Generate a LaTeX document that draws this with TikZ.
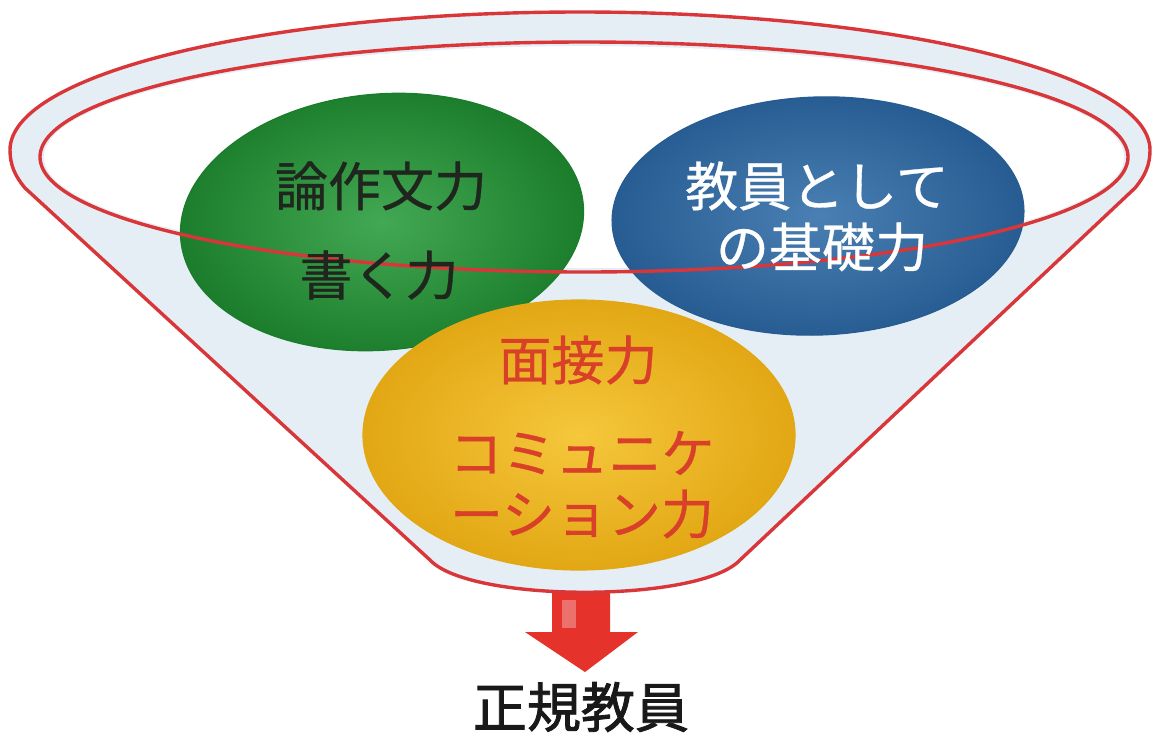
\documentclass[tikz,border=0pt]{standalone}
\usepackage{fontspec}
\newfontfamily\jp[FakeBold=0.6]{Noto Sans CJK JP}
\newfontfamily\jpb[FakeBold=1.6]{Noto Sans CJK JP}
\usetikzlibrary{shapes.geometric}
\definecolor{rimred}{HTML}{D9363A}
\definecolor{funnelblue}{HTML}{E6EEF5}
\definecolor{ggreen}{HTML}{2E9E40}
\definecolor{ggreenD}{HTML}{1B7D2B}
\definecolor{bblue}{HTML}{3A74AC}
\definecolor{bblueD}{HTML}{275C92}
\definecolor{yyellow}{HTML}{F4C126}
\definecolor{yyellowD}{HTML}{E2A714}
\definecolor{txtred}{HTML}{D8402A}
\definecolor{txtdark}{HTML}{1E261E}
\definecolor{arrowred}{HTML}{E5332B}
\tikzset{
  ballnode/.style={ellipse, inner sep=0pt, line width=1.2pt},
  bigtext/.style={font=\jp\fontsize{53}{60}\selectfont, inner sep=0pt},
  rimline/.style={draw=rimred, line width=3.4pt},
}
\begin{document}
\begin{tikzpicture}[x=1pt,y=-1pt]
\useasboundingbox (0,0) rectangle (1156,737);
% arrow
\fill[arrowred] (552,588) -- (610,588) -- (610,632) -- (638,632) -- (585,672) -- (525,632) -- (552,632) -- cycle;
\fill[white, opacity=0.3] (562,600) -- (576,600) -- (576,628) -- (562,628) -- cycle;
% funnel body
\path[fill=funnelblue, rimline] (10,150) arc[start angle=180, end angle=360, x radius=570, y radius=138]
  .. controls (1150,165) and (1145,176) .. (1135,188) -- (740,560)
  .. controls (700,603) and (470,603) .. (430,560) -- (25,188)
  .. controls (15,176) and (10,165) .. cycle;
\fill[white] (584,157) ellipse [x radius=540, y radius=111];
% balls
\node[ballnode, draw=ggreenD, inner color=ggreen!90!white, outer color=ggreenD, minimum width=404, minimum height=256, rotate=5] (green) at (382,222) {};
\node[ballnode, draw=bblueD, inner color=bblue!92!white, outer color=bblueD, minimum width=412, minimum height=238, rotate=2] (blue) at (818,216) {};
\draw[rimline] (584,157) ellipse [x radius=544, y radius=115];
\node[ballnode, draw=yyellowD, inner color=yyellow!90!white, outer color=yyellowD, minimum width=432, minimum height=270] (yellow) at (579,435) {};
% texts
\node[bigtext, text=txtdark] (g1) at (381,186) {論作文力};
\node[bigtext, text=txtdark] (g2) at (379,275) {書く力};
\node[bigtext, text=white] (b1) at (817,186) {教員として};
\node[bigtext, text=white] (b2) at (822,247) {の基礎力};
\node[bigtext, text=txtred] (y1) at (578,360) {面接力};
\node[bigtext, text=txtred] (y2) at (582,453) {コミュニケ};
\node[bigtext, text=txtred] (y3) at (582,514) {ーション力};
\node[font=\jpb\fontsize{54}{60}\selectfont, text=black!90, inner sep=0pt] (goal) at (581,707) {正規教員};
\end{tikzpicture}
\end{document}
